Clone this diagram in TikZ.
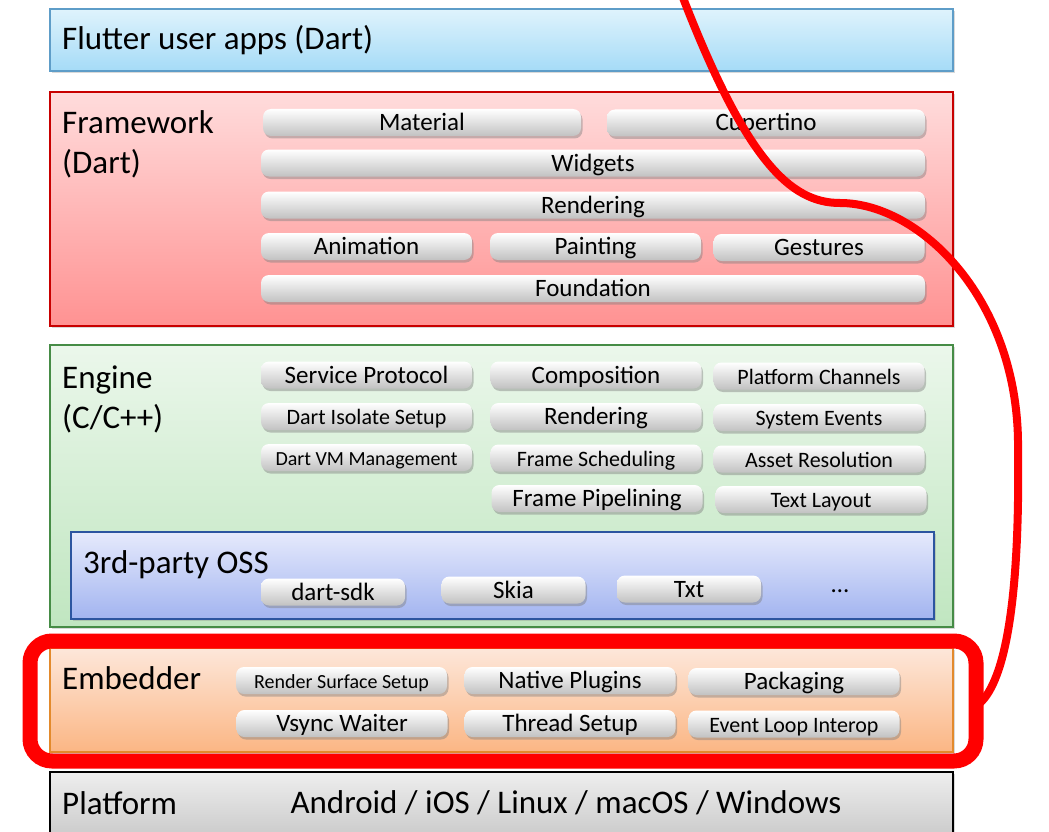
\documentclass[tikz,border=0pt]{standalone}
\usepackage{fontspec}
\setmainfont{Carlito}
\usetikzlibrary{shadows}

\definecolor{appstop}{HTML}{DFF3FC}
\definecolor{appsbot}{HTML}{A5DBF7}
\definecolor{appsline}{HTML}{5E9DC8}
\definecolor{fwtop}{HTML}{FFDCDC}
\definecolor{fwbot}{HTML}{FF9292}
\definecolor{fwline}{HTML}{C80000}
\definecolor{engtop}{HTML}{EBF7EB}
\definecolor{engbot}{HTML}{C0E6C0}
\definecolor{engline}{HTML}{468C46}
\definecolor{osstop}{HTML}{E6EAFC}
\definecolor{ossbot}{HTML}{A2B4F0}
\definecolor{ossline}{HTML}{2C55A0}
\definecolor{embtop}{HTML}{FDE7DA}
\definecolor{embbot}{HTML}{FBB684}
\definecolor{embline}{HTML}{E38A2C}
\definecolor{plattop}{HTML}{EEEEEE}
\definecolor{platbot}{HTML}{C6C6C6}
\definecolor{marker}{HTML}{FF0000}

\begin{document}
\begin{tikzpicture}[
		x=1pt, y=-1pt,
		% slojevi
		layer/.style={line width=1.2pt, drop shadow={shadow xshift=2pt, shadow yshift=-2pt, opacity=0.3}},
		biglabel/.style={anchor=base west, inner sep=0pt, align=left, font=\fontsize{33}{40}\selectfont},
		% pilule s tekstom, fiksna visina teksta
		pill/.style={rounded corners=8pt, top color=white, bottom color=black!24, minimum height=27pt, inner sep=0pt,
			text height=16pt, text depth=0pt,
			drop shadow={shadow xshift=1.5pt, shadow yshift=-2.5pt, opacity=0.45},
			font=\fontsize{25}{30}\selectfont},
		pillsm/.style={pill, font=\fontsize{22}{26}\selectfont},
		pilltiny/.style={pill, font=\fontsize{20}{24}\selectfont},
		third/.style={minimum width=211pt},
		half/.style={minimum width=318pt},
		full/.style={minimum width=664pt},
		osswidth/.style={minimum width=144pt},
		highlight/.style={draw=marker, line width=15pt, rounded corners=22pt},
		redline/.style={draw=marker, line width=8pt},
		]
		\useasboundingbox (0,0) rectangle (1049,832);

		\draw[layer, draw=appsline, top color=appstop, bottom color=appsbot] (50,9) rectangle (953,71);
		\node[biglabel] (appslbl) at (62,50) {Flutter user apps (Dart)};

		\draw[layer, draw=fwline, top color=fwtop, bottom color=fwbot] (50,92) rectangle (953,326);
		\node[biglabel] (fwlbl) at (62,173) {Framework\\(Dart)};
		\node[pill, half] (material) at (422,122.5) {Material};
		\node[pill, half] (cupertino) at (766,123) {Cupertino};
		\node[pill, full] (widgets) at (593,163) {Widgets};
		\node[pill, full] (fwrendering) at (593,205) {Rendering};
		\node[pill, third] (animation) at (366.5,246.5) {Animation};
		\node[pill, third] (painting) at (595.5,246.5) {Painting};
		\node[pill, third] (gestures) at (819,247.5) {Gestures};
		\node[pill, full] (foundation) at (593,288.5) {Foundation};

		\draw[layer, draw=engline, top color=engtop, bottom color=engbot] (50,345) rectangle (953,627);
		\node[biglabel] (englbl) at (62,428) {Engine\\(C/C++)};
		\node[pill, third] (servproto) at (366.5,375) {Service Protocol};
		\node[pill, third] (composition) at (596,375) {Composition};
		\node[pillsm, third] (platchan) at (819,376) {Platform Channels};
		\node[pillsm, third] (isolate) at (366.5,416.5) {Dart Isolate Setup};
		\node[pill, third] (engrendering) at (596,416.5) {Rendering};
		\node[pillsm, third] (sysevents) at (819,417.5) {System Events};
		\node[pilltiny, third] (dartvm) at (366.5,457.5) {Dart VM Management};
		\node[pillsm, third] (framesched) at (596,458) {Frame Scheduling};
		\node[pillsm, third] (assetres) at (819,459) {Asset Resolution};
		\node[pill, third] (framepipe) at (597,498.5) {Frame Pipelining};
		\node[pillsm, third] (textlayout) at (821,499.5) {Text Layout};

		\draw[layer, draw=ossline, top color=osstop, bottom color=ossbot] (71,532) rectangle (934,619);
		\node[biglabel] (osslbl) at (83,573) {3rd-party OSS};
		\node[pill, osswidth] (dartsdk) at (333,592) {dart-sdk};
		\node[pill, osswidth] (skia) at (513.5,590) {Skia};
		\node[pill, osswidth] (txt) at (689,589) {Txt};
		\node[font=\fontsize{25}{30}\selectfont] (ossmore) at (840,591) {\dots};

		\draw[layer, draw=embline, top color=embtop, bottom color=embbot] (50,648) rectangle (953,752);
		\node[biglabel] (emblbl) at (62,689) {Embedder};
		\node[pilltiny, third] (rendersurf) at (341.5,680.5) {Render Surface Setup};
		\node[pill, third] (nativeplug) at (570,680.5) {Native Plugins};
		\node[pill, third] (packaging) at (794,681.5) {Packaging};
		\node[pill, third] (vsync) at (342,723.5) {Vsync Waiter};
		\node[pill, third] (threadsetup) at (570,723.5) {Thread Setup};
		\node[pillsm, third] (eventloop) at (794,724) {Event Loop Interop};

		\draw[layer, draw=black, top color=plattop, bottom color=platbot] (50,772) rectangle (953,845);
		\node[biglabel] (platlbl) at (62,814) {Platform};
		\node[biglabel, anchor=base] (platforms) at (566,813) {Android / iOS / Linux / macOS / Windows};

		% oznaka
		\draw[highlight] (30,641) rectangle (976,761);
		\draw[redline] (680,-10) .. controls (745,160) and (790,203) .. (840,203)
			.. controls (920,203) and (1020,300) .. (1018,450)
			.. controls (1020,600) and (1005,680) .. (980,703);
	\end{tikzpicture}
\end{document}
